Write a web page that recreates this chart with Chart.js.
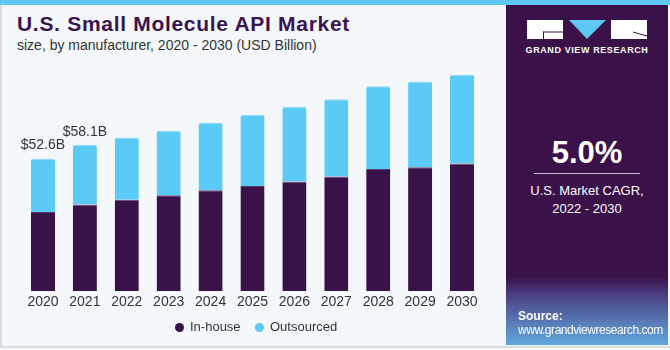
<!DOCTYPE html>
<html>
<head>
<meta charset="utf-8">
<script src="https://cdn.jsdelivr.net/npm/chart.js@4/dist/chart.umd.min.js"></script>
<style>
  html, body { margin: 0; padding: 0; }
  body { width: 670px; height: 350px; position: relative; overflow: hidden; background: #f4f8fb; font-family: "Liberation Sans", Arial, sans-serif; }
  #marco { position: absolute; left: 0; top: 0; width: 668px; height: 346px; border-left: 2px solid #d9dde0; border-bottom: 2px solid #d9dde0; box-sizing: content-box; }
  #franja { position: absolute; left: 0; top: 0; width: 670px; height: 5px; background: #5ec8f2; }
  #titulo { position: absolute; left: 17px; top: 12px; font-size: 21px; font-weight: bold; color: #3a1450; letter-spacing: 0.7px; }
  #subtitulo { position: absolute; left: 17px; top: 37px; font-size: 14px; color: #333; }
  #grafica { position: absolute; left: 0; top: 0; }
  #leyenda { position: absolute; left: 0; top: 319px; width: 500px; height: 16px; font-size: 13px; color: #333; }
  .item { position: absolute; top: 0; line-height: 16px; white-space: nowrap; }
  .punto { position: absolute; top: 3.5px; width: 9px; height: 9px; border-radius: 50%; }
  .item span.txt { position: absolute; left: 15px; top: 0; }
  #panel { position: absolute; left: 506px; top: 5px; width: 162px; height: 340px;
    background: linear-gradient(to bottom, #3a1249 0%, #3a1249 80%, #4a3e80 85%, #5878b4 93%, #5fa8de 100%); }
  #logo { position: absolute; left: 21px; top: 15px; width: 120px; height: 19px; }
  #gvr { position: absolute; left: 0; top: 40px; width: 162px; text-align: center; color: #fff; font-size: 9px; font-weight: bold; letter-spacing: 0.6px; }
  #cagr { position: absolute; left: 0; top: 130px; width: 162px; text-align: center; color: #fff; font-size: 31px; font-weight: bold; }
  #linea { position: absolute; left: 28px; top: 168px; width: 106px; height: 1px; background: #c9bfd3; }
  #cagrtxt { position: absolute; left: 0; top: 177px; width: 162px; text-align: center; color: #fff; font-size: 13px; line-height: 18px; }
  #fuente { position: absolute; left: 12px; top: 304px; color: #fff; font-size: 12px; line-height: 14px; }
  #fuente .url { letter-spacing: -0.45px; }
</style>
</head>
<body>
<div id="marco"></div>
<div id="franja"></div>
<div id="titulo">U.S. Small Molecule API Market</div>
<div id="subtitulo">size, by manufacturer, 2020 - 2030 (USD Billion)</div>
<canvas id="grafica" width="500" height="350"></canvas>
<div id="leyenda"></div>
<div id="panel">
  <svg id="logo" viewBox="0 0 120 19">
    <rect x="0" y="0" width="36" height="19" fill="#fff"/>
    <rect x="16" y="11.5" width="20" height="1" fill="#3a1249"/>
    <rect x="16" y="11.5" width="1" height="7.5" fill="#3a1249"/>
    <polygon points="42,0 79,0 60,19" fill="#5ec8f2"/>
    <rect x="84" y="0" width="36" height="19" fill="#fff"/>
    <polygon points="106,11.5 120,15.5 120,16.5 106,12.5" fill="#3a1249"/>
  </svg>
  <div id="gvr">GRAND VIEW RESEARCH</div>
  <div id="cagr">5.0%</div>
  <div id="linea"></div>
  <div id="cagrtxt">U.S. Market CAGR,<br>2022 - 2030</div>
  <div id="fuente"><b>Source:</b><br><span class="url">www.grandviewresearch.com</span></div>
</div>
<script>
const anios = ["2020","2021","2022","2023","2024","2025","2026","2027","2028","2029","2030"];
const inHouse = [31.4, 34.4, 36.3, 38.0, 40.0, 41.7, 43.5, 45.5, 48.5, 49.1, 50.6];
const outsourced = [21.2, 23.7, 24.6, 25.6, 26.8, 28.2, 29.6, 30.6, 32.8, 34.0, 35.2];
const etiquetasTotales = ["$52.6B", "$58.1B"];

const colorInHouse = "#381249";
const colorOutsourced = "#5ccaf6";

// etiquetas sobre las dos primeras barras
const pluginEtiquetas = {
  id: "etiquetas",
  afterDatasetsDraw(chart) {
    const ctx = chart.ctx;
    const meta = chart.getDatasetMeta(1);
    ctx.save();
    ctx.font = "14px 'Liberation Sans', Arial, sans-serif";
    ctx.fillStyle = "#333";
    ctx.textAlign = "center";
    ctx.textBaseline = "bottom";
    etiquetasTotales.forEach((texto, i) => {
      const barra = meta.data[i];
      ctx.fillText(texto, barra.x, barra.y - 6);
    });
    ctx.restore();
  }
};

const grafica = new Chart(document.getElementById("grafica"), {
  type: "bar",
  data: {
    labels: anios,
    datasets: [
      { label: "In-house", data: inHouse, backgroundColor: colorInHouse, borderColor: "#5a3a70", borderWidth: { top: 1, left: 0, right: 0, bottom: 0 } },
      { label: "Outsourced", data: outsourced, backgroundColor: colorOutsourced, borderColor: "#8fdcfa", borderWidth: { top: 1, left: 0, right: 0, bottom: 0 }, borderRadius: { topLeft: 2, topRight: 2 }, borderSkipped: "bottom" }
    ]
  },
  options: {
    responsive: false,
    animation: false,
    layout: { padding: { left: 22, right: 17, top: 39, bottom: 36 } },
    datasets: { bar: { barPercentage: 0.575, categoryPercentage: 1 } },
    scales: {
      x: {
        stacked: true,
        grid: { display: false, drawTicks: false },
        border: { display: false },
        ticks: { color: "#333", font: { size: 14, family: "'Liberation Sans', Arial, sans-serif" }, padding: 3, maxRotation: 0 }
      },
      y: {
        stacked: true,
        display: false,
        min: 0,
        max: 100
      }
    },
    plugins: {
      legend: { display: false },
      tooltip: { enabled: false }
    }
  },
  plugins: [pluginEtiquetas]
});

// leyenda en html, con los nombres y colores de los datasets
const posicionesLeyenda = [175, 255];
const leyenda = document.getElementById("leyenda");
grafica.data.datasets.forEach((ds, i) => {
  const item = document.createElement("div");
  item.className = "item";
  item.style.left = posicionesLeyenda[i] + "px";
  item.innerHTML = `<span class="punto" style="background:${ds.backgroundColor}"></span><span class="txt">${ds.label}</span>`;
  leyenda.appendChild(item);
});
</script>
</body>
</html>
